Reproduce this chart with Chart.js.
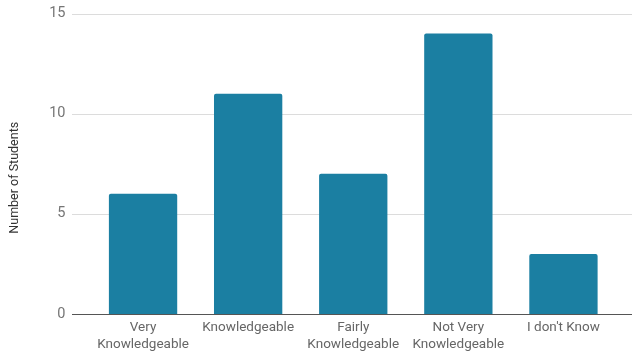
<!DOCTYPE html>
<html>
<head>
<meta charset="utf-8">
<script src="https://cdn.jsdelivr.net/npm/chart.js@4/dist/chart.umd.min.js"></script>
<style>
  html, body { margin: 0; padding: 0; background: #fff; }
  #wrap { width: 632px; height: 356px; }
</style>
</head>
<body>
<div id="wrap"><canvas id="chart"></canvas></div>
<script>
// --- Data ---
const categories = [
    ['Very', 'Knowledgeable'],
    'Knowledgeable',
    ['Fairly', 'Knowledgeable'],
    ['Not Very', 'Knowledgeable'],
    "I don't Know"
];
const studentCounts = [6, 11, 7, 14, 3];
const yTicks = [0, 5, 10, 15];
const yTitle = 'Number of Students';

// gridlines run a bit past the plot area on both sides, like the original
const gridPlugin = {
    id: 'wideGrid',
    beforeDatasetsDraw(chart) {
        const ctx = chart.ctx;
        const y = chart.scales.y;
        ctx.save();
        yTicks.forEach(v => {
            const py = Math.round(y.getPixelForValue(v)) + 0.5;
            ctx.strokeStyle = v === 0 ? '#555' : '#dcdcdc';
            ctx.lineWidth = v === 0 ? 1.2 : 1;
            ctx.beginPath();
            ctx.moveTo(72, py);
            ctx.lineTo(chart.width, py);
            ctx.stroke();
        });
        ctx.restore();
    }
};

// y title sits a little below the middle of the axis in the original
const yTitlePlugin = {
    id: 'yTitle',
    afterDraw(chart) {
        const ctx = chart.ctx;
        const area = chart.chartArea;
        ctx.save();
        ctx.translate(15, (area.top + area.bottom) / 2 + 14);
        ctx.rotate(-Math.PI / 2);
        ctx.font = '12.5px Roboto';
        ctx.fillStyle = '#333';
        ctx.textAlign = 'center';
        ctx.textBaseline = 'middle';
        ctx.fillText(yTitle, 0, 0);
        ctx.restore();
    }
};

new Chart(document.getElementById('chart'), {
    type: 'bar',
    data: {
        labels: categories,
        datasets: [{
            data: studentCounts,
            backgroundColor: '#1b7fa2',
            borderRadius: { topLeft: 2, topRight: 2 },
            borderSkipped: 'bottom',
            categoryPercentage: 1,
            barPercentage: 0.65
        }]
    },
    options: {
        responsive: true,
        maintainAspectRatio: false,
        animation: false,
        layout: { padding: { top: 13.5, right: 16, left: 0, bottom: 0 } },
        plugins: {
            legend: { display: false },
            tooltip: { enabled: false }
        },
        scales: {
            x: {
                grid: { display: false, drawTicks: false },
                border: { display: false },
                ticks: {
                    color: '#666',
                    font: { family: 'Roboto', size: 13.5 },
                    padding: 6,
                    maxRotation: 0,
                    autoSkip: false
                },
                afterFit(scale) {
                    scale.height = 42;
                    scale.paddingLeft = 0;
                    scale.paddingRight = 0;
                }
            },
            y: {
                min: 0,
                max: 15,
                afterBuildTicks(scale) { scale.ticks = yTicks.map(v => ({ value: v })); },
                grid: { display: false, drawTicks: false },
                border: { display: false },
                ticks: {
                    color: '#757575',
                    font: { family: 'Roboto', size: 14.5 },
                    padding: 25
                },
                afterFit(scale) {
                    scale.width = 90.5;
                    scale.paddingTop = 0;
                    scale.paddingBottom = 0;
                }
            }
        }
    },
    plugins: [gridPlugin, yTitlePlugin]
});
</script>
</body>
</html>
